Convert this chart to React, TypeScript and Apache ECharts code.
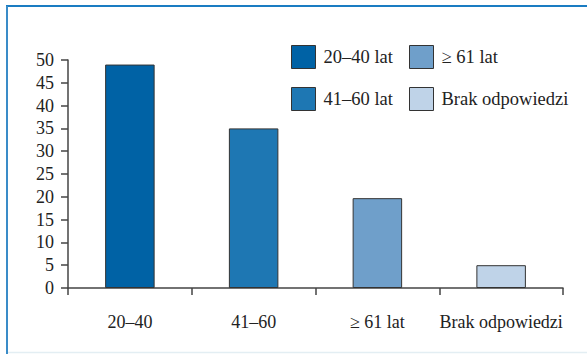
import React, { useEffect, useRef } from "react";
import * as echarts from "echarts";

const categories = ["20–40", "41–60", "≥ 61 lat", "Brak odpowiedzi"];
const seriesNames = ["20–40 lat", "41–60 lat", "≥ 61 lat", "Brak odpowiedzi"];
const values = [49, 35, 19.7, 5];
const colors = ["#0062a5", "#1e77b3", "#6f9fca", "#bfd3e8"];
const yTicks = { min: 0, max: 50, interval: 5 };

const FONT = "'Liberation Serif', 'Times New Roman', serif";

export default function App() {
  const ref = useRef<HTMLDivElement>(null);
  useEffect(() => {
    if (!ref.current) return;
    const chart = echarts.init(ref.current, undefined, { renderer: "svg" });
    const series = seriesNames.map((name, i) => ({
      name,
      type: "bar",
      stack: "all",
      barWidth: "40%",
      data: categories.map((_, j) => (j === i ? values[j] : "-")),
      itemStyle: { color: colors[i], borderColor: "#333", borderWidth: 1 },
    }));
    const legendCommon = {
      orient: "vertical",
      top: 40,
      itemWidth: 24,
      itemHeight: 23,
      itemGap: 18,
      icon: "rect",
      textStyle: { fontFamily: FONT, fontSize: 18.5, color: "#222", padding: [0, 0, 0, 3] },
      itemStyle: { borderColor: "#333", borderWidth: 1 },
      selectedMode: false,
    };
    chart.setOption({
      animation: false,
      backgroundColor: "#fff",
      textStyle: { fontFamily: FONT },
      grid: { left: 68, right: 24, top: 60, bottom: 66 },
      legend: [
        { ...legendCommon, data: [seriesNames[0], seriesNames[1]], left: 286 },
        { ...legendCommon, data: [seriesNames[2], seriesNames[3]], left: 404 },
      ],
      xAxis: {
        type: "category",
        data: categories,
        boundaryGap: true,
        axisLine: { lineStyle: { color: "#444", width: 1.5 } },
        axisTick: { show: true, length: 7, inside: false, lineStyle: { color: "#444", width: 1.5 } },
        axisLabel: { fontFamily: FONT, fontSize: 18, color: "#222", margin: 25, interval: 0 },
      },
      yAxis: {
        type: "value",
        min: yTicks.min,
        max: yTicks.max,
        interval: yTicks.interval,
        splitLine: { show: false },
        axisLine: { show: true, lineStyle: { color: "#444", width: 1.5 } },
        axisTick: { show: true, length: 7, lineStyle: { color: "#444", width: 1.5 } },
        axisLabel: { fontFamily: FONT, fontSize: 18, color: "#222", margin: 14 },
      },
      graphic: [
        { type: "line", shape: { x1: 6, y1: 6, x2: 587, y2: 6 }, style: { stroke: "#1a7cc2", lineWidth: 2 } },
        { type: "line", shape: { x1: 7, y1: 6, x2: 7, y2: 354 }, style: { stroke: "#3a8cc8", lineWidth: 2 } },
        { type: "line", shape: { x1: 8, y1: 352.5, x2: 587, y2: 352.5 }, style: { stroke: "#e3eef3", lineWidth: 1.5 } },
      ],
      series,
    });
    return () => chart.dispose();
  }, []);
  return (
    <div
      ref={ref}
      style={{ position: "fixed", left: 0, top: 0, width: 587, height: 354 }}
    />
  );
}
